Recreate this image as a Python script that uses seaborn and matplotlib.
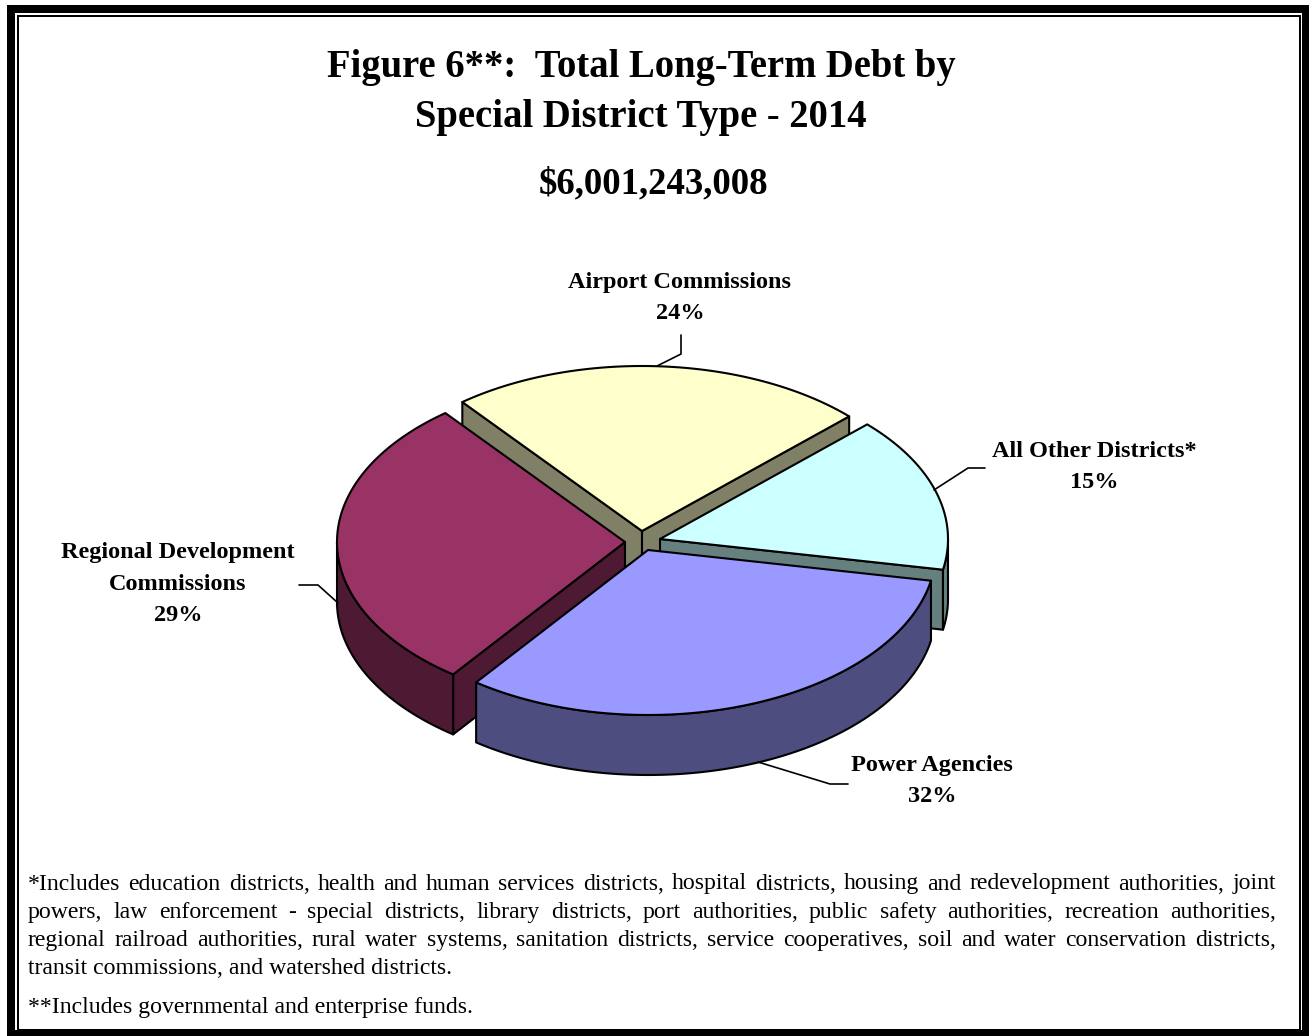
import numpy as np
import matplotlib
matplotlib.use("Agg")
import matplotlib.pyplot as plt
from matplotlib.patches import Polygon, Rectangle
import seaborn as sns

# Data
districts = ["Airport Commissions", "All Other Districts*", "Power Agencies", "Regional Development\nCommissions"]
shares = [23.5, 15.2, 32.2, 29.1]
total_label = "$6,001,243,008"

title_lines = ["Figure 6**:  Total Long-Term Debt by", "Special District Type - 2014"]
footnote_lines = [
    "*Includes education districts, health and human services districts, hospital districts, housing and redevelopment authorities, joint",
    "powers, law enforcement - special districts, library districts, port authorities, public safety authorities, recreation authorities,",
    "regional railroad authorities, rural water systems, sanitation districts, service cooperatives, soil and water conservation districts,",
    "transit commissions, and watershed districts.",
]
footnote2 = "**Includes governmental and enterprise funds."

# Styles and layout, in picture pixels
top_colors = ["#FFFFCC", "#CCFFFF", "#9999FF", "#993366"]
side_colors = ["#808066", "#668080", "#4D4D80", "#4D1933"]
centers = [(642, 531), (660, 539), (648, 550), (625, 542)]
label_pos = [(680, 298), (1094, 467), (932, 781), (178, 584)]
leaders = [
    [(657, 366), (681, 354), (681, 335)],
    [(934, 490), (968, 468), (985, 468)],
    [(758, 762), (830, 784), (848, 784)],
    [(338, 603), (318, 585), (299, 585)],
]
rx, ry, depth = 288, 165, 60
start_angle = -38.6
note_size = 17.1

sns.set_theme(style="white")
plt.rcParams["font.family"] = ["Liberation Serif", "DejaVu Serif"]

fig = plt.figure(figsize=(13.09, 10.36), dpi=100)
ax = fig.add_axes([0, 0, 1, 1])
ax.set_xlim(0, 1309)
ax.set_ylim(1036, 0)
ax.axis("off")

# double frame
ax.add_patch(Rectangle((11, 9), 1295, 1025, fill=False, ec="black", lw=5.76))
ax.add_patch(Rectangle((18, 16), 1282, 1014, fill=False, ec="black", lw=1.44))


def rim(cx, cy, a0, a1, n=80):
    t = np.radians(np.linspace(a0, a1, n))
    return np.column_stack([cx + rx * np.sin(t), cy - ry * np.cos(t)])


def shape(pts, color, z):
    ax.add_patch(Polygon(pts, closed=True, fc=color, ec="black", lw=1.5, joinstyle="round", zorder=z))


edges = start_angle + np.concatenate([[0], np.cumsum(shares)]) * 3.6
drop = np.array([0, depth])

# back to front: airport, other, regional, power
for z, i in enumerate([0, 1, 3, 2]):
    cx, cy = centers[i]
    a0, a1 = edges[i], edges[i + 1]
    apex = np.array([cx, cy])
    p0 = rim(cx, cy, a0, a0, 1)[0]
    p1 = rim(cx, cy, a1, a1, 1)[0]
    zz = z * 10 + 2
    # flat cut faces, only those turned towards the viewer
    if np.sin(np.radians(a0)) < 0:
        shape([apex, p0, p0 + drop, apex + drop], side_colors[i], zz)
    if np.sin(np.radians(a1)) > 0:
        shape([apex, p1, p1 + drop, apex + drop], side_colors[i], zz)
    # outer wall
    lo, hi = max(a0, 90), min(a1, 270)
    if hi > lo:
        arc = rim(cx, cy, lo, hi)
        shape(np.vstack([arc, arc[::-1] + drop]), side_colors[i], zz + 1)
    shape(np.vstack([[apex], rim(cx, cy, a0, a1)]), top_colors[i], zz + 2)

# titles
ax.text(641, 67, title_lines[0], ha="center", va="center", fontsize=27.8, fontweight="bold", color="black")
ax.text(641, 117, title_lines[1], ha="center", va="center", fontsize=27.8, fontweight="bold", color="black")
ax.text(653, 184, total_label.replace("$", r"\$"), ha="center", va="center", fontsize=26.5, fontweight="bold", color="black")

# labels and leaders
for name, share, pos, line in zip(districts, shares, label_pos, leaders):
    ax.text(pos[0], pos[1], f"{name}\n{share:.0f}%", ha="center", va="center", fontsize=17.5, fontweight="bold",
            color="black", linespacing=1.64, zorder=100)
    xs, ys = zip(*line)
    ax.plot(xs, ys, color="black", lw=1.2, zorder=100)

# footnotes, justified word by word
fig.canvas.draw()
renderer = fig.canvas.get_renderer()
left, right = 28, 1276


def word_width(word):
    t = ax.text(0, 0, word, fontsize=note_size)
    w = t.get_window_extent(renderer).width
    t.remove()
    return w


for k, line in enumerate(footnote_lines):
    y = 884 + k * 28.2
    if k == len(footnote_lines) - 1:
        ax.text(left, y, line, ha="left", va="center", fontsize=note_size, color="black")
        continue
    words = line.split(" ")
    widths = [word_width(w) for w in words]
    gap = (right - left - sum(widths)) / (len(words) - 1)
    x = left
    for w, width in zip(words, widths):
        ax.text(x, y, w, ha="left", va="center", fontsize=note_size, color="black")
        x += width + gap

ax.text(left, 1007, footnote2, ha="left", va="center", fontsize=note_size, color="black")

fig.savefig("out.png", dpi=100)
